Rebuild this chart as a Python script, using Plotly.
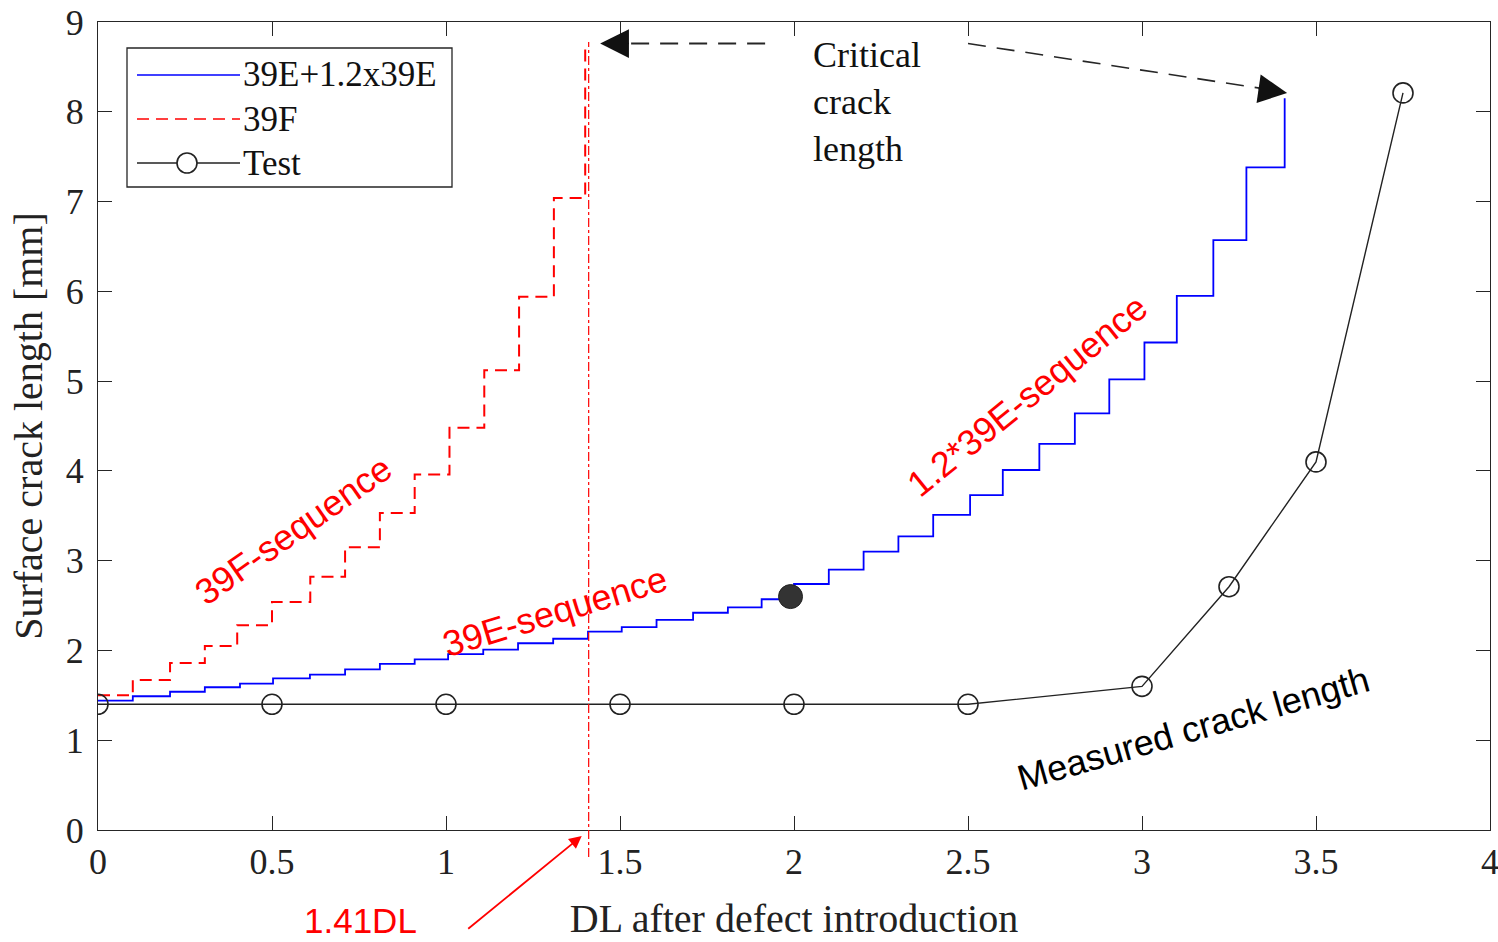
import plotly.graph_objects as go

# ---------------- data ----------------
# 39E + 1.2x39E sequence (staircase: level starts at x)
blue_x = [0, 0.10, 0.207, 0.307, 0.408, 0.503, 0.609, 0.71, 0.81, 0.91, 1.006, 1.107,
          1.207, 1.308, 1.408, 1.505, 1.605, 1.71, 1.81, 1.907, 2.0, 2.10, 2.20, 2.30,
          2.40, 2.506, 2.60, 2.705, 2.807, 2.906, 3.007, 3.10, 3.205, 3.30, 3.41]
blue_y = [1.44, 1.49, 1.54, 1.59, 1.63, 1.69, 1.73, 1.79, 1.85, 1.90, 1.96, 2.01,
          2.08, 2.13, 2.21, 2.26, 2.34, 2.42, 2.48, 2.57, 2.74, 2.90, 3.10, 3.27,
          3.51, 3.73, 4.01, 4.30, 4.64, 5.02, 5.43, 5.95, 6.57, 7.38, 8.15]

# 39F sequence
red_x = [0, 0.10, 0.207, 0.307, 0.40, 0.50, 0.61, 0.71, 0.81, 0.91, 1.01, 1.11, 1.21, 1.31, 1.40]
red_y = [1.50, 1.67, 1.86, 2.05, 2.28, 2.54, 2.82, 3.15, 3.53, 3.96, 4.48, 5.12, 5.94, 7.04, 8.76]

# Test (measured)
test_x = [0, 0.5, 1.0, 1.5, 2.0, 2.5, 3.0, 3.25, 3.5, 3.75]
test_y = [1.40, 1.40, 1.40, 1.40, 1.40, 1.40, 1.60, 2.71, 4.10, 8.21]

# transition point between 39E and 1.2x39E
switch_x = [1.99]
switch_y = [2.60]

critical_dl = 1.41
x_ticks = [0, 0.5, 1, 1.5, 2, 2.5, 3, 3.5, 4]
y_ticks = list(range(0, 10))

SERIF = "Liberation Serif, Times New Roman, serif"
SANS = "Liberation Sans, Arial, sans-serif"
AX = "#262626"

W, H = 1498, 942
ML, MR, MT, MB = 98, 8, 22, 112
PW, PH = W - ML - MR, H - MT - MB


def px(xp):
    return (xp - ML) / PW


def py(yp):
    return (H - MB - yp) / PH


fig = go.Figure()

fig.add_trace(go.Scatter(x=blue_x, y=blue_y, mode="lines", line_shape="hv",
                         line=dict(color="#0000FF", width=1.8), name="39E+1.2x39E",
                         showlegend=False))
fig.add_trace(go.Scatter(x=red_x, y=red_y, mode="lines", line_shape="hv",
                         line=dict(color="#FF0000", width=2, dash="12px,7px"), name="39F",
                         showlegend=False))
fig.add_trace(go.Scatter(x=test_x, y=test_y, mode="lines+markers",
                         line=dict(color="#222222", width=1.4),
                         marker=dict(symbol="circle-open", size=20, color="#222222",
                                     line=dict(width=1.6)),
                         name="Test", showlegend=False))
fig.add_trace(go.Scatter(x=switch_x, y=switch_y, mode="markers",
                         marker=dict(symbol="circle", size=24, color="#333333",
                                     line=dict(color="#222222", width=1)),
                         showlegend=False))

shapes = []
annotations = []

# vertical critical line
shapes.append(dict(type="line", xref="x", yref="paper", x0=critical_dl, x1=critical_dl,
                   y0=py(857), y1=py(42), line=dict(color="#FF0000", width=1.2, dash="dashdot")))

# dashed arrows "Critical crack length"
shapes.append(dict(type="line", xref="x", yref="y", x0=1.917, y0=8.76, x1=1.48, y1=8.76,
                   line=dict(color="#262626", width=2, dash="18px,11px")))
shapes.append(dict(type="line", xref="x", yref="y", x0=2.50, y0=8.76, x1=3.36, y1=8.25,
                   line=dict(color="#262626", width=1.6, dash="18px,11px")))
annotations.append(dict(x=1.443, y=8.76, ax=1.53, ay=8.76, axref="x", ayref="y",
                        xref="x", yref="y", showarrow=True, arrowhead=2, arrowsize=3.6,
                        arrowwidth=1.6, arrowcolor="#111111", text=""))
annotations.append(dict(x=3.417, y=8.21, ax=3.331, ay=8.258, axref="x", ayref="y",
                        xref="x", yref="y", showarrow=True, arrowhead=2, arrowsize=3.6,
                        arrowwidth=1.6, arrowcolor="#111111", text=""))
annotations.append(dict(x=2.05, y=8.11, xref="x", yref="y", xanchor="left", yanchor="middle",
                        align="left", showarrow=False,
                        text="Critical<br>crack<br>length",
                        font=dict(family=SERIF, size=36, color="#111111")))

# red arrow 1.41DL
annotations.append(dict(x=1.39, y=py(836), xref="x", yref="paper", ax=-115, ay=94,
                        showarrow=True, arrowhead=2, arrowsize=1.4,
                        arrowwidth=1.8, arrowcolor="#FF0000", text=""))
annotations.append(dict(x=0.753, y=py(920), xref="x", yref="paper", showarrow=False,
                        xanchor="center", yanchor="middle",
                        text="1.41DL", font=dict(family=SANS, size=35, color="#FF0000")))

# sequence labels
annotations.append(dict(x=0.56, y=3.34, xref="x", yref="y", showarrow=False, textangle=-35,
                        text="39F-sequence", font=dict(family=SANS, size=36, color="#FF0000")))
annotations.append(dict(x=1.313, y=2.43, xref="x", yref="y", showarrow=False, textangle=-17,
                        text="39E-sequence", font=dict(family=SANS, size=36, color="#FF0000")))
annotations.append(dict(x=2.67, y=4.84, xref="x", yref="y", showarrow=False, textangle=-39,
                        text="1.2*39E-sequence", font=dict(family=SANS, size=36, color="#FF0000")))
annotations.append(dict(x=3.147, y=1.136, xref="x", yref="y", showarrow=False, textangle=-16,
                        text="Measured crack length", font=dict(family=SANS, size=36, color="#000000")))

# ---------------- manual legend ----------------
shapes.append(dict(type="rect", xref="paper", yref="paper", x0=px(127), x1=px(452),
                   y0=py(187), y1=py(48), line=dict(color=AX, width=1.3), fillcolor="white",
                   layer="above"))
leg_items = [("39E+1.2x39E", "#0000FF", "solid", 75),
             ("39F", "#FF0000", "12px,7px", 119),
             ("Test", "#222222", "solid", 163)]
for name, col, dash, yy in leg_items:
    shapes.append(dict(type="line", xref="paper", yref="paper", x0=px(137), x1=px(240),
                       y0=py(yy), y1=py(yy), line=dict(color=col, width=1.6, dash=dash),
                       layer="above"))
    annotations.append(dict(x=px(241), y=py(yy), xref="paper", yref="paper", xanchor="left",
                            yanchor="middle", showarrow=False, text=name,
                            font=dict(family=SERIF, size=35, color="#111111")))
shapes.append(dict(type="circle", xref="paper", yref="paper", xsizemode="pixel",
                   ysizemode="pixel", xanchor=px(187), yanchor=py(163), x0=-10, x1=10,
                   y0=-10, y1=10, line=dict(color="#222222", width=1.6), fillcolor="white",
                   layer="above"))

fig.update_layout(
    width=W, height=H,
    margin=dict(l=ML, r=MR, t=MT, b=MB),
    paper_bgcolor="white", plot_bgcolor="white",
    shapes=shapes, annotations=annotations,
    showlegend=False,
)
fig.update_xaxes(range=[0, 4], tickvals=x_ticks, ticktext=[str(v) for v in x_ticks],
                 automargin=False, ticklabeloverflow="allow",
                 showgrid=False, zeroline=False, showline=True, linecolor=AX, linewidth=1,
                 mirror="ticks", ticks="inside", ticklen=14, tickcolor=AX,
                 tickfont=dict(family=SERIF, size=36, color="#222222"),
                 title=dict(text="DL after defect introduction", standoff=22,
                            font=dict(family=SERIF, size=40, color="#222222")))
fig.update_yaxes(range=[0, 9], tickvals=y_ticks, automargin=False, ticklabeloverflow="allow",
                 showgrid=False, zeroline=False, showline=True, linecolor=AX, linewidth=1,
                 mirror="ticks", ticks="inside", ticklen=14, tickcolor=AX,
                 tickfont=dict(family=SERIF, size=36, color="#222222"),
                 ticklabelstandoff=6,
                 title=dict(text="Surface crack length [mm]", standoff=10,
                            font=dict(family=SERIF, size=40, color="#222222")))

fig.write_html("out.html", config={"displayModeBar": False},
               post_script="document.body.style.margin='0';document.body.style.overflow='hidden';")
